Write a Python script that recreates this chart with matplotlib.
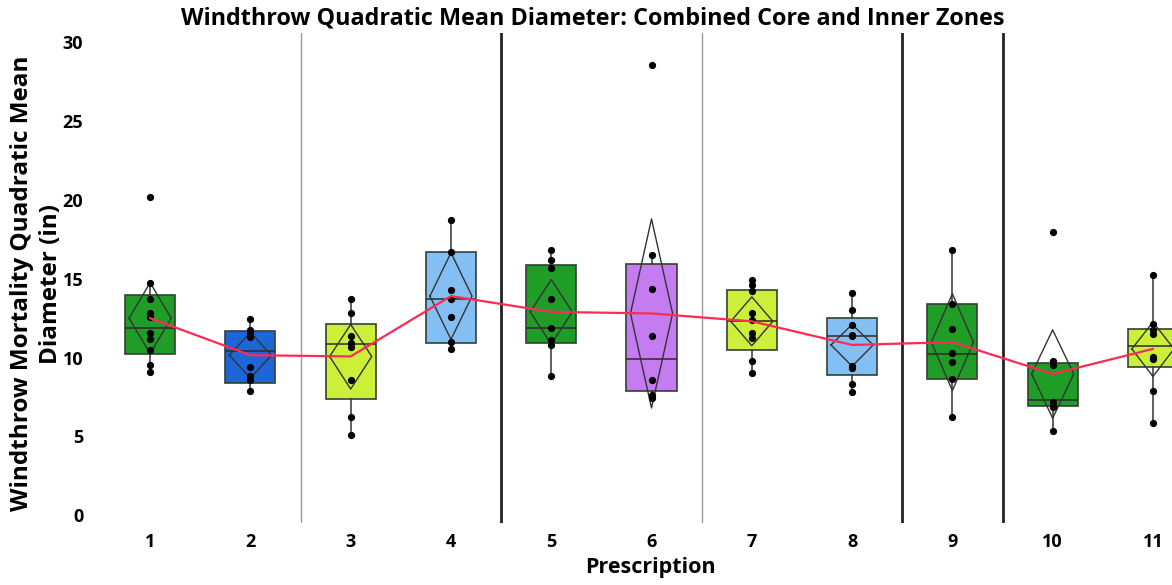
import matplotlib
matplotlib.use("Agg")
import matplotlib.pyplot as plt

plt.rcParams['font.family'] = ['Open Sans', 'DejaVu Sans']
plt.rcParams['font.weight'] = 'bold'

# Prescriptions and the raw observations shown as dots
prescriptions = [1, 2, 3, 4, 5, 6, 7, 8, 9, 10, 11]
points = [
    [20.2, 14.75, 13.7, 12.8, 12.55, 11.55, 11.15, 10.5, 9.55, 9.1],
    [12.45, 11.75, 11.5, 11.3, 9.4, 8.8, 8.55, 7.9],
    [13.7, 12.8, 11.35, 10.9, 10.7, 8.6, 6.25, 5.1],
    [18.7, 16.7, 14.3, 13.7, 12.55, 11.0, 10.55],
    [16.8, 16.2, 15.7, 13.7, 11.9, 11.1, 10.8, 8.85],
    [28.55, 16.5, 14.35, 11.35, 8.55, 7.65, 7.45],
    [14.9, 14.6, 14.2, 12.85, 12.4, 11.55, 11.25, 9.75, 9.05],
    [14.1, 13.0, 12.05, 11.45, 11.35, 9.45, 9.35, 8.35, 7.8],
    [16.85, 13.4, 11.8, 10.3, 9.7, 8.65, 6.25],
    [18.0, 9.75, 9.55, 7.15, 6.95, 6.85, 5.35],
    [15.25, 12.1, 11.75, 11.5, 10.05, 9.9, 7.9, 5.85],
]

# Box summaries
q1 = [10.2, 8.4, 7.35, 10.9, 10.9, 7.9, 10.45, 8.9, 8.65, 6.95, 9.4]
med = [11.9, 10.4, 10.85, 13.7, 11.9, 9.9, 12.35, 11.35, 10.25, 7.3, 10.75]
q3 = [14.0, 11.7, 12.1, 16.7, 15.9, 15.95, 14.3, 12.5, 13.4, 9.65, 11.8]
whislo = [9.1, 7.9, 5.1, 10.55, 8.85, 7.45, 9.05, 7.8, 6.25, 5.35, 5.85]
whishi = [14.75, 12.45, 13.7, 18.7, 16.8, 16.5, 14.9, 14.1, 16.85, 9.75, 15.25]

# Means and confidence diamonds
means = [12.5, 10.15, 10.07, 13.9, 12.9, 12.8, 12.3, 10.8, 10.98, 8.96, 10.55]
ci_lo = [10.25, 8.7, 8.0, 11.15, 10.85, 6.8, 10.75, 9.45, 7.9, 6.15, 8.8]
ci_hi = [14.75, 11.6, 12.1, 16.65, 14.95, 18.8, 13.85, 12.1, 14.05, 11.76, 12.25]

box_colors = ['#1f9d27', '#1e66d8', '#ccf03a', '#84bff4', '#1f9d27', '#c57cf0',
              '#ccf03a', '#84bff4', '#1f9d27', '#1f9d27', '#ccf03a']

thin_seps = [2.5, 6.5]
thick_seps = [4.5, 8.5, 9.5]

fig = plt.figure(figsize=(11.72, 5.85), dpi=100)
ax = fig.add_axes([0.0853, 0.106, 0.9147, 0.8376])

for x in thin_seps:
    ax.axvline(x, color='#9a9a9a', lw=1.0, zorder=1)
for x in thick_seps:
    ax.axvline(x, color='#222222', lw=2.0, zorder=1)

stats = []
for i in range(len(prescriptions)):
    stats.append({'q1': q1[i], 'med': med[i], 'q3': q3[i],
                  'whislo': whislo[i], 'whishi': whishi[i], 'fliers': []})

bp = ax.bxp(stats, positions=prescriptions, widths=0.5, patch_artist=True,
            showcaps=False, showfliers=False,
            boxprops=dict(edgecolor='#334033', linewidth=1.2),
            whiskerprops=dict(color='#333333', linewidth=1.1),
            medianprops=dict(color='#2a2a2a', linewidth=1.1))
for patch, c in zip(bp['boxes'], box_colors):
    patch.set_facecolor(c)
    patch.set_zorder(2)

# mean diamonds
hw = 0.21
for x, m, lo, hi in zip(prescriptions, means, ci_lo, ci_hi):
    ax.plot([x - hw, x, x + hw, x, x - hw], [m, hi, m, lo, m],
            color='#333333', lw=1.0, zorder=3)

for x, pts in zip(prescriptions, points):
    ax.plot([x] * len(pts), pts, 'o', color='black', markersize=4.2, zorder=4)

ax.plot(prescriptions, means, color='#ff2a55', lw=1.6, zorder=5)

ax.set_xlim(0.5, 11.19)
ax.set_ylim(-0.5, 30.6)
ax.set_xticks(prescriptions)
ax.set_xticklabels([str(p) for p in prescriptions])
ax.set_yticks([0, 5, 10, 15, 20, 25, 30])
ax.tick_params(axis='both', length=0, labelsize=13)
ax.tick_params(axis='x', pad=7)
ax.tick_params(axis='y', pad=12)
for s in ax.spines.values():
    s.set_visible(False)

fig.text(0.506, 0.969, 'Windthrow Quadratic Mean Diameter: Combined Core and Inner Zones',
         ha='center', va='center', fontsize=16.8, fontweight='bold')
fig.text(0.555, 0.03, 'Prescription', ha='center', va='center',
         fontsize=15.5, fontweight='bold')
fig.text(0.031, 0.515, 'Windthrow Mortality Quadratic Mean\nDiameter (in)',
         ha='center', va='center', rotation=90, fontsize=17.5,
         fontweight='bold', multialignment='center', linespacing=1.25)

fig.savefig('out.png', dpi=100, facecolor='white')
